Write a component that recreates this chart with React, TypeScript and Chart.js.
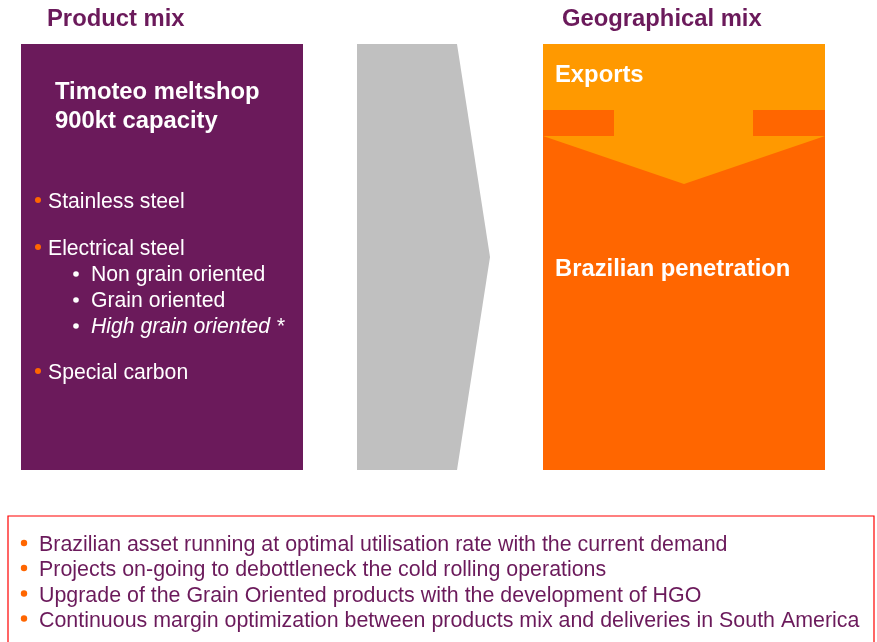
import React, { useEffect, useRef } from "react";
import { Chart, registerables } from "chart.js";

Chart.register(...registerables);

// ---- data ----
const headings = ["Product mix", "Geographical mix"];
const meltshopLines = ["Timoteo meltshop", "900kt capacity"];
const productItems = ["Stainless steel", "Electrical steel", "Special carbon"];
const electricalSubItems = ["Non grain oriented", "Grain oriented", "High grain oriented *"];
const geoLabels = ["Exports", "Brazilian penetration"];
const noteItems = [
  "Brazilian asset running at optimal utilisation rate with the current demand",
  "Projects on-going to debottleneck the cold rolling operations",
  "Upgrade of the Grain Oriented products with the development of HGO",
  "Continuous margin optimization between products mix and deliveries in South America",
];

// shape outlines (slide coordinates)
const productBox = [
  { x: 21, y: 44 }, { x: 303, y: 44 }, { x: 303, y: 470 }, { x: 21, y: 470 }, { x: 21, y: 44 },
];
const flowArrow = [
  { x: 357, y: 44 }, { x: 457, y: 44 }, { x: 490, y: 257 }, { x: 457, y: 470 }, { x: 357, y: 470 }, { x: 357, y: 44 },
];
const geoBox = [
  { x: 543, y: 44 }, { x: 825, y: 44 }, { x: 825, y: 470 }, { x: 543, y: 470 }, { x: 543, y: 44 },
];
const exportBand = [
  { x: 543, y: 44 }, { x: 825, y: 44 }, { x: 825, y: 110 }, { x: 543, y: 110 }, { x: 543, y: 44 },
];
const exportArrow = [
  { x: 614, y: 109 }, { x: 753, y: 109 }, { x: 753, y: 136 }, { x: 825, y: 136 }, { x: 684, y: 184 },
  { x: 543, y: 136 }, { x: 614, y: 136 }, { x: 614, y: 109 },
];
const noteFrame = [
  { x: 8, y: 670 }, { x: 8, y: 516 }, { x: 874, y: 516 }, { x: 874, y: 670 },
];

// ---- styles ----
const W = 877;
const H = 642;
const PURPLE = "#6b1a5b";
const GRAY = "#c0c0c0";
const LIGHT_ORANGE = "#ff9900";
const DARK_ORANGE = "#ff6600";
const FONT = '"Liberation Sans", Arial, Helvetica, sans-serif';

// lower "order" is drawn on top in Chart.js
function shape(data: { x: number; y: number }[], color: string, order: number) {
  return {
    type: "scatter" as const,
    data,
    showLine: true,
    fill: "shape",
    backgroundColor: color,
    borderColor: color,
    borderWidth: 0,
    pointRadius: 0,
    tension: 0,
    order,
  };
}

const textPlugin = {
  id: "slideText",
  afterDatasetsDraw(chart: any) {
    const ctx = chart.ctx as CanvasRenderingContext2D;
    const sx = chart.scales.x;
    const sy = chart.scales.y;
    const px = (v: number) => sx.getPixelForValue(v);
    const py = (v: number) => sy.getPixelForValue(v);
    const text = (s: string, x: number, y: number, font: string, color: string) => {
      ctx.font = font;
      ctx.fillStyle = color;
      ctx.textBaseline = "alphabetic";
      ctx.textAlign = "left";
      ctx.fillText(s, px(x), py(y));
    };
    const dot = (x: number, y: number, r: number, color: string) => {
      ctx.beginPath();
      ctx.fillStyle = color;
      ctx.arc(px(x), py(y), r, 0, Math.PI * 2);
      ctx.fill();
    };
    ctx.save();
    const bold = `bold 23.8px ${FONT}`;
    // headings
    text(headings[0], 47, 26, bold, PURPLE);
    text(headings[1], 562, 26, bold, PURPLE);
    // meltshop
    text(meltshopLines[0], 55, 99, bold, "#ffffff");
    text(meltshopLines[1], 55, 128, bold, "#ffffff");
    // product bullets
    const reg = `21.2px ${FONT}`;
    const prodBase = [208, 255, 379];
    productItems.forEach((s, i) => {
      dot(38, prodBase[i] - 8, 3, DARK_ORANGE);
      text(s, 48, prodBase[i], reg, "#ffffff");
    });
    const subBase = [281, 307, 333];
    electricalSubItems.forEach((s, i) => {
      dot(76, subBase[i] - 7, 2.8, "#ffffff");
      text(s, 91, subBase[i], i === 2 ? `italic 21.2px ${FONT}` : reg, "#ffffff");
    });
    // geo labels
    text(geoLabels[0], 555, 82, bold, "#ffffff");
    text(geoLabels[1], 555, 276, bold, "#ffffff");
    // notes
    const noteFont = `21.4px ${FONT}`;
    const noteBase = [551, 576, 601.5, 626.5];
    noteItems.forEach((s, i) => {
      dot(24, noteBase[i] - 8, 3.2, DARK_ORANGE);
      text(s, 39, noteBase[i], noteFont, PURPLE);
    });
    ctx.restore();
  },
};

export default function App() {
  const ref = useRef<HTMLCanvasElement | null>(null);

  useEffect(() => {
    if (!ref.current) return;
    const chart = new Chart(ref.current, {
      type: "scatter",
      data: {
        datasets: [
          shape(productBox, PURPLE, 5),
          shape(flowArrow, GRAY, 5),
          shape(geoBox, DARK_ORANGE, 4),
          shape(exportBand, LIGHT_ORANGE, 3),
          shape(exportArrow, LIGHT_ORANGE, 2),
          {
            type: "scatter",
            data: noteFrame,
            showLine: true,
            fill: false,
            borderColor: "#ff0000",
            borderWidth: 1.2,
            pointRadius: 0,
            tension: 0,
            order: 1,
          } as any,
        ] as any,
      },
      options: {
        animation: false,
        responsive: false,
        maintainAspectRatio: false,
        layout: { padding: 0 },
        plugins: { legend: { display: false }, tooltip: { enabled: false } },
        events: [],
        scales: {
          x: { type: "linear", min: 0, max: W, display: false },
          y: { type: "linear", min: 0, max: H, reverse: true, display: false },
        },
      },
      plugins: [textPlugin],
    });
    return () => chart.destroy();
  }, []);

  return (
    <div style={{ position: "fixed", left: 0, top: 0, width: W, height: H, background: "#ffffff" }}>
      <canvas ref={ref} width={W} height={H} style={{ width: W, height: H }} />
    </div>
  );
}
